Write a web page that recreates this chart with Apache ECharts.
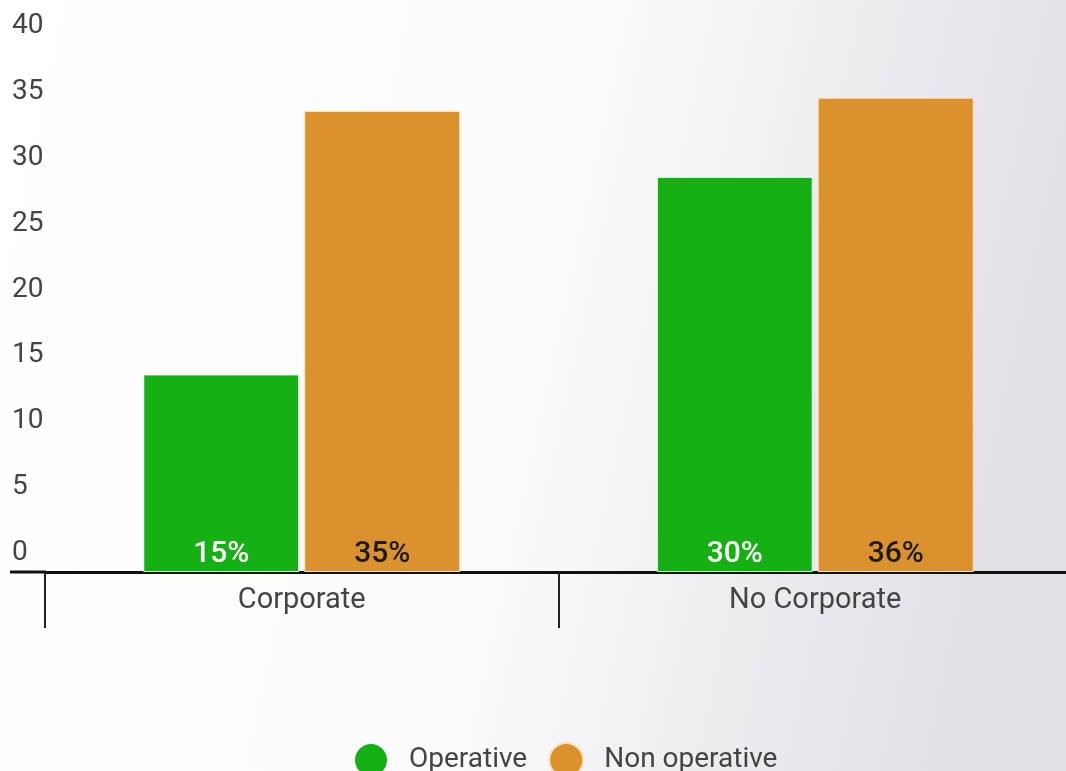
<!DOCTYPE html>
<html>
<head>
<meta charset="utf-8">
<script src="https://cdn.jsdelivr.net/npm/echarts@6/dist/echarts.min.js"></script>
<style>
  html, body { margin: 0; padding: 0; }
  #chart { width: 1066px; height: 771px; }
</style>
</head>
<body>
<div id="chart"></div>
<script>
const categories = ['Corporate', 'No Corporate'];
const seriesNames = ['Operative', 'Non operative'];
const operative = [15, 30];
const nonOperative = [35, 36];
const yMin = 0, yMax = 40, yStep = 5;

const myChart = echarts.init(document.getElementById('chart'));

function barLabel(color) {
  return {
    show: true,
    position: 'insideBottom',
    distance: 3,
    formatter: '{c}%',
    fontFamily: 'Roboto',
    fontSize: 30,
    fontWeight: 500,
    color: color
  };
}

const option = {
  backgroundColor: new echarts.graphic.LinearGradient(0, 0, 1, 0.3, [
    { offset: 0, color: '#ffffff' },
    { offset: 0.55, color: '#fbfbfc' },
    { offset: 1, color: '#e0e0e6' }
  ]),
  textStyle: { fontFamily: 'Roboto' },
  animation: false,
  grid: { left: 45, width: 1027, top: 45, bottom: 199, outerBoundsMode: 'none', containLabel: false },
  legend: {
    data: seriesNames,
    left: 348,
    top: 737,
    icon: 'circle',
    itemWidth: 34,
    itemHeight: 34,
    itemGap: 21,
    textStyle: { fontSize: 28, color: '#444', padding: [0, 0, 0, 16] }
  },
  xAxis: {
    type: 'category',
    data: categories,
    axisLine: { lineStyle: { color: '#111', width: 3 } },
    axisTick: { show: true, length: 56, lineStyle: { color: '#222', width: 2 } },
    axisLabel: { fontSize: 29, color: '#444', margin: 14 },
    splitLine: { show: false }
  },
  yAxis: {
    type: 'value',
    min: yMin,
    max: yMax,
    interval: yStep,
    axisLine: { show: false },
    axisTick: { show: false },
    splitLine: { show: false },
    axisLabel: {
      fontSize: 28,
      color: '#444',
      align: 'left',
      margin: 33,
      verticalAlign: 'bottom',
      padding: [0, 0, 5, 0]
    }
  },
  graphic: [
    {
      type: 'line',
      shape: { x1: 10, y1: 572, x2: 46, y2: 572 },
      style: { stroke: '#111', lineWidth: 3 }
    }
  ],
  series: [
    {
      name: seriesNames[0],
      type: 'bar',
      data: operative,
      barWidth: 156,
      barGap: '3.2%',
      itemStyle: { color: '#14b014', borderColor: '#ffffff', borderWidth: 1 },
      label: barLabel('#ffffff')
    },
    {
      name: seriesNames[1],
      type: 'bar',
      data: nonOperative,
      barWidth: 156,
      barGap: '3.2%',
      itemStyle: { color: '#db922c', borderColor: '#fbe3c0', borderWidth: 1 },
      label: barLabel('#1a1a1a')
    }
  ]
};

myChart.setOption(option);
</script>
</body>
</html>
